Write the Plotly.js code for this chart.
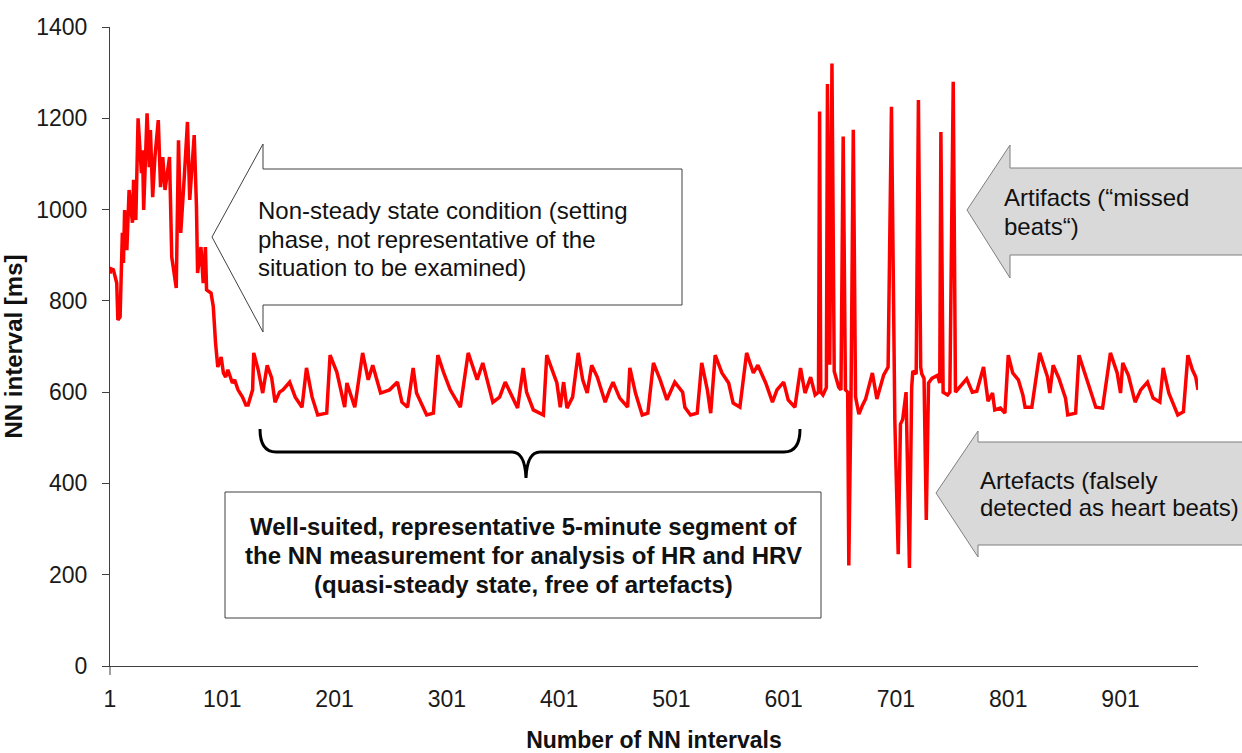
<!DOCTYPE html>
<html>
<head>
<meta charset="utf-8">
<script src="https://cdn.plot.ly/plotly-3.0.1.min.js"></script>
<style>html,body{margin:0;padding:0;background:#fff;}#chart{width:1242px;height:753px;}</style>
</head>
<body>
<div id="chart"></div>
<script>
// ---- Data ----
const nnIndex = [1,2,4,5,7,8,10,12,13,14,16,18,21,22,24,26,29,30,31,34,36,37,39,41,44,46,48,50,54,56,60,62,64,67,70,72,76,78,79,82,84,86,87,91,93,95,97,100,102,104,106,110,112,115,119,122,124,128,129,133,137,141,145,148,152,155,161,166,172,176,181,186,194,197,203,210,212,219,226,231,235,242,250,257,261,266,271,274,283,289,293,298,304,313,320,328,333,342,348,353,359,364,369,372,378,387,390,395,399,402,405,408,413,418,422,426,430,435,442,446,449,455,462,464,469,475,480,485,491,497,504,511,513,518,524,528,533,536,540,546,552,556,562,568,574,578,585,591,595,601,605,611,616,620,625,629,632,633,634,636,639,640,642,644,646,650,652,654,656,658,659,661,663,665,668,671,674,680,684,690,694,697,699,700,703,705,707,710,713,715,716,719,721,723,724,726,728,730,733,738,740,741,743,747,749,752,754,758,764,769,773,779,783,787,789,794,798,801,805,810,814,816,822,829,836,838,841,846,852,854,861,864,870,874,879,885,892,898,901,903,908,914,919,925,930,936,939,944,948,952,957,961,965,968,970];
const nnValue = [860,870,868,860,839,758,765,949,883,999,911,1043,971,1065,977,1200,1080,1130,999,1211,1093,1174,1027,1115,1196,1049,1115,1043,1115,896,828,1152,949,1065,1192,1021,1163,1006,861,918,839,918,824,817,787,708,655,677,642,633,649,620,627,605,589,572,572,605,686,649,598,659,631,578,600,605,622,589,567,653,589,550,554,681,644,567,620,567,686,627,659,598,605,622,578,567,653,598,550,554,681,644,605,567,686,627,664,578,589,622,589,565,653,600,561,550,681,644,620,567,622,565,589,686,627,598,659,633,578,605,622,587,567,653,598,550,554,664,627,583,622,600,567,550,554,664,605,554,681,642,620,576,567,686,642,659,620,578,605,622,583,567,653,598,633,594,600,1215,600,594,610,1275,660,1320,646,611,605,1160,605,600,220,600,1175,590,552,570,585,642,585,637,655,1225,620,537,245,530,540,600,215,610,646,640,1240,655,640,630,320,620,630,637,620,1170,600,594,600,1280,600,611,629,600,602,655,580,598,561,565,554,681,642,627,594,567,567,686,633,598,659,631,587,550,554,681,637,605,567,565,686,642,598,664,637,578,605,622,587,578,653,598,572,550,557,681,649,633,605];
const xTickVals = [1,101,201,301,401,501,601,701,801,901];
const xTickText = ['1','101','201','301','401','501','601','701','801','901'];
const yTickVals = [0,200,400,600,800,1000,1200,1400];

const steadyLines = ['Non-steady state condition (setting', 'phase, not representative of the', 'situation to be examined)'];
const missedLines = ['Artifacts (“missed', 'beats“)'];
const falseLines = ['Artefacts (falsely', 'detected as heart beats)'];
const segmentLines = ['Well-suited, representative 5-minute segment of', 'the NN measurement for analysis of HR and HRV', '(quasi-steady state, free of artefacts)'];

// ---- Geometry helpers: pixel position in the figure -> paper coords ----
const PL = 110, PR = 1198, PT = 27, PB = 666;
function px(x){ return (x - PL) / (PR - PL); }
function py(y){ return (PB - y) / (PB - PT); }
function poly(pts){ return pts.map((p,i)=> (i===0?'M':'L') + px(p[0])+','+py(p[1])).join(' ') + ' Z'; }

const FONT = 'Liberation Sans, Arial, sans-serif';

const trace = {
  x: nnIndex, y: nnValue, type: 'scatter', mode: 'lines',
  line: {color: '#ff0000', width: 3.5}, hoverinfo: 'skip', showlegend: false
};

const shapes = [
  {type:'path', xref:'paper', yref:'paper',
   path: poly([[212,237],[263,144],[263,169],[682,169],[682,305],[263,305],[263,332]]),
   fillcolor:'#ffffff', line:{color:'#404040', width:1}},
  {type:'path', xref:'paper', yref:'paper',
   path: poly([[967,210],[1010,145],[1010,168],[1260,168],[1260,255],[1010,255],[1010,278]]),
   fillcolor:'#d9d9d9', line:{color:'#7f7f7f', width:1}},
  {type:'path', xref:'paper', yref:'paper',
   path: poly([[936,493],[978,431],[978,442],[1260,442],[1260,545],[978,545],[978,557]]),
   fillcolor:'#d9d9d9', line:{color:'#7f7f7f', width:1}},
  {type:'path', xref:'paper', yref:'paper',
   path: 'M' + px(260)+','+py(429) + ' Q' + px(260)+','+py(452)+' '+px(276)+','+py(452) +
         ' L' + px(512)+','+py(452) + ' Q' + px(525)+','+py(452)+' '+px(526)+','+py(478) +
         ' Q' + px(527)+','+py(452)+' '+px(540)+','+py(452) +
         ' L' + px(784)+','+py(452) + ' Q' + px(800)+','+py(452)+' '+px(800)+','+py(429),
   line:{color:'#000000', width:3}},
  {type:'rect', xref:'paper', yref:'paper', x0:px(225), x1:px(821), y0:py(492), y1:py(618),
   fillcolor:'#ffffff', line:{color:'#404040', width:1}},
  {type:'line', xref:'paper', yref:'paper', x0:0, x1:0, y0:py(666), y1:py(675), line:{color:'#404040', width:1}}
];

const annotations = [];
function addLines(lines, x, ys, anchor, bold){
  lines.forEach((t,i)=> annotations.push({xref:'paper', yref:'paper', x:px(x), y:py(ys[i]),
    xanchor:anchor, yanchor:'middle', align:anchor, showarrow:false,
    text: bold ? '<b>'+t+'</b>' : t, font:{family:FONT, size:24, color:'#111'}}));
}
addLines(steadyLines, 256, [210,239,267], 'left', false);
addLines(missedLines, 1002, [198,226], 'left', false);
addLines(falseLines, 978, [480,507], 'left', false);
addLines(segmentLines, 523, [526,555,584], 'center', true);

const layout = {
  width:1242, height:753,
  margin:{l:PL, r:1242-PR, t:PT, b:753-PB, pad:0},
  paper_bgcolor:'#ffffff', plot_bgcolor:'#ffffff',
  showlegend:false,
  xaxis:{range:[1,970], tickmode:'array', tickvals:xTickVals, ticktext:xTickText,
         showgrid:false, zeroline:false, showline:true, linecolor:'#404040', linewidth:1,
         ticks:'', ticklabelstandoff:12,
         tickfont:{family:FONT, size:23, color:'#1a1a1a'},
         title:{text:'<b>Number of NN intervals</b>', font:{family:FONT, size:23, color:'#111'}, standoff:22}},
  yaxis:{range:[0,1400], tickmode:'array', tickvals:yTickVals,
         showgrid:false, zeroline:false, showline:true, linecolor:'#404040', linewidth:1,
         ticks:'outside', ticklen:7, tickcolor:'#404040', ticklabelstandoff:10,
         tickfont:{family:FONT, size:23, color:'#1a1a1a'},
         title:{text:'<b>NN interval [ms]</b>', font:{family:FONT, size:24, color:'#111'}, standoff:6}},
  shapes:shapes, annotations:annotations
};

Plotly.newPlot('chart', [trace], layout, {displayModeBar:false, responsive:false});
</script>
</body>
</html>
